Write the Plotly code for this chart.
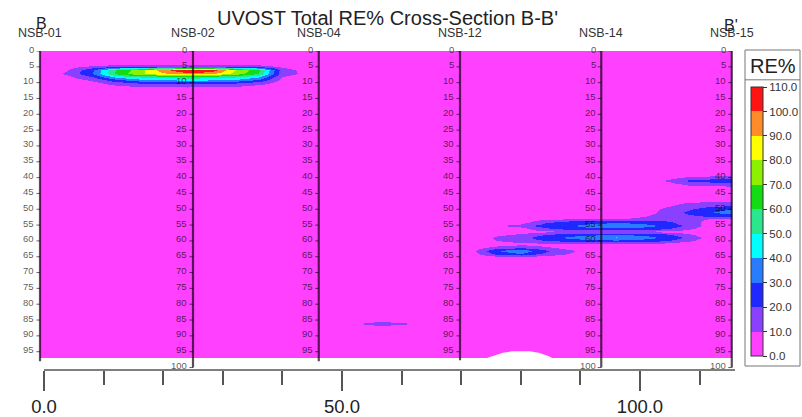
import plotly.graph_objects as go

# ------------------------------------------------------------------ data
boring_names = ["NSB-01", "NSB-02", "NSB-04", "NSB-12", "NSB-14", "NSB-15"]
boring_distance = [-0.67, 25.0, 46.1, 69.8, 93.5, 115.4]
boring_total_depth = [98.0, 100.0, 98.0, 97.7, 100.0, 100.0]

section_base_depth = 97.0

grid_distance = [0, 4, 8, 12, 16, 20, 24, 28, 32, 36, 40, 44, 48, 52, 56, 60,
                 64, 68, 72, 76, 80, 84, 88, 92, 96, 100, 104, 108, 112, 115]
grid_depth = list(range(0, 98))
background_re = 3.0

# shallow plume around NSB-02 (depth 4-12 ft)
shallow_cols = [0, 4, 8, 12, 16, 20, 24, 28, 32, 36, 40, 44]
shallow_depths = [4, 5, 6, 7, 8, 9, 10, 11, 12]
shallow_re = [
    [3, 3, 4, 5, 5, 5, 5, 5, 5, 5, 3, 3],
    [3, 6, 12, 17, 18, 18, 18, 18, 18, 16, 8, 4],
    [4, 10, 28, 60, 75, 95, 110, 106, 80, 62, 14, 7],
    [4, 12, 30, 62, 78, 88, 94, 92, 76, 60, 14, 8],
    [4, 8, 20, 44, 52, 56, 57, 56, 52, 42, 10, 5],
    [3, 5, 12, 28, 38, 42, 44, 43, 40, 30, 7, 4],
    [3, 4, 7, 16, 22, 24, 25, 24, 22, 16, 5, 3],
    [3, 3, 4, 9, 12, 13, 14, 13, 12, 8, 4, 3],
    [3, 3, 3, 5, 6, 6, 6, 6, 6, 4, 3, 3],
]

# intermediate lenses between NSB-12 and NSB-15 (depth 53-66 ft)
mid_cols = [72, 76, 80, 84, 88, 92, 96, 100, 104, 108, 112]
mid_depths = [53, 54, 55, 56, 57, 58, 59, 60, 61, 62, 63, 64, 65, 66]
mid_re = [
    [3, 3, 3, 6, 8, 9, 9, 12, 12, 8, 3],
    [3, 3, 6, 18, 24, 26, 28, 27, 23, 14, 3],
    [3, 9, 14, 26, 28, 36, 40, 36, 28, 18, 3],
    [3, 3, 6, 18, 24, 27, 28, 26, 22, 12, 3],
    [3, 3, 5, 8, 8, 8, 8, 8, 7, 5, 3],
    [3, 8, 12, 20, 26, 28, 30, 28, 24, 12, 3],
    [3, 12, 16, 26, 32, 38, 42, 36, 28, 18, 3],
    [3, 10, 14, 20, 24, 26, 28, 26, 22, 12, 3],
    [3, 6, 8, 7, 8, 8, 8, 8, 6, 4, 3],
    [5, 14, 18, 12, 6, 3, 3, 3, 3, 3, 3],
    [8, 30, 38, 22, 12, 6, 3, 3, 3, 3, 3],
    [6, 24, 30, 18, 10, 4, 3, 3, 3, 3, 3],
    [3, 8, 10, 6, 4, 3, 3, 3, 3, 3, 3],
    [3, 3, 3, 3, 3, 3, 3, 3, 3, 3, 3],
]

# lenses near NSB-15 (depth 39-54 ft)
right_cols = [100, 104, 108, 112, 115]
right_depths = [39, 40, 41, 42, 43, 44, 45, 46, 47, 48, 49, 50, 51, 52, 53, 54]
right_re = [
    [3, 3, 5, 6, 6],
    [3, 5, 12, 14, 15],
    [3, 10, 22, 26, 28],
    [3, 5, 12, 14, 15],
    [3, 3, 4, 5, 5],
    [3, 3, 3, 3, 3],
    [3, 3, 3, 3, 3],
    [3, 3, 3, 3, 3],
    [3, 3, 5, 6, 6],
    [3, 6, 11, 12, 12],
    [3, 9, 15, 20, 22],
    [3, 12, 19, 28, 30],
    [4, 13, 22, 30, 32],
    [8, 14, 18, 24, 26],
    [12, 14, 14, 10, 10],
    [12, 12, 12, 6, 6],
]

# thin deep streak east of NSB-04 (depth ~86 ft)
deep_cols = [48, 52, 56, 60, 64]
deep_depths = [85, 86, 87]
deep_re = [
    [3, 4, 6, 5, 3],
    [3, 8, 16, 13, 3],
    [3, 4, 6, 5, 3],
]

# base of section (white hump between NSB-12 and NSB-14)
hump_distance = [73.8, 75.5, 77.0, 78.5, 81.5, 83.0, 84.5, 85.6]
hump_depth = [97.3, 96.3, 95.3, 94.9, 94.9, 95.3, 96.3, 97.3]

re_levels = [0, 10, 20, 30, 40, 50, 60, 70, 80, 90, 100, 110]
re_colors = ["#ff40ff", "#8a40ff", "#1e28ff", "#2a7cff", "#00ffff", "#2ae68c",
             "#14dc14", "#8cf000", "#ffff00", "#ff8c28", "#ff1414"]

x_ticks_major = 50
x_ticks_minor = 10

# ------------------------------------------------------------------ grid
z = [[background_re for _ in grid_distance] for _ in grid_depth]


def stamp(cols, depths, vals):
    for i, d in enumerate(depths):
        r = grid_depth.index(d)
        for j, c in enumerate(cols):
            k = grid_distance.index(c)
            z[r][k] = max(z[r][k], vals[i][j])


stamp(shallow_cols, shallow_depths, shallow_re)
stamp(mid_cols, mid_depths, mid_re)
stamp(right_cols, right_depths, right_re)
stamp(deep_cols, deep_depths, deep_re)

x_edges = ([boring_distance[0]]
           + [(a + b) / 2 for a, b in zip(grid_distance[:-1], grid_distance[1:])]
           + [boring_distance[-1]])
y_edges = ([0.0]
           + [(a + b) / 2 for a, b in zip(grid_depth[:-1], grid_depth[1:])]
           + [section_base_depth])

zmin, zmax = re_levels[0], re_levels[-1]
nb = len(re_colors)
colorscale = []
for i, c in enumerate(re_colors):
    colorscale.append([i / nb, c])
    colorscale.append([(i + 1) / nb, c])

# ------------------------------------------------------------------ layout geometry
W, H = 802, 417
ML, MR, MT, MB = 0, 67, 51, 45
PW, PH = W - ML - MR, H - MT - MB
px_per_unit = 5.96
x_lo = -44 / px_per_unit
x_hi = x_lo + PW / px_per_unit
y_hi = PH / 3.185


def px_x(px):
    return (px - ML) / PW


def px_y(py):
    return (H - MB - py) / PH


FONT = "Liberation Sans, Arial, sans-serif"
label_color = "rgba(0,0,0,0.68)"

fig = go.Figure()

fig.add_trace(go.Heatmap(
    x=x_edges, y=y_edges, z=z, zsmooth="best",
    colorscale=colorscale, zmin=zmin, zmax=zmax, hoverinfo="skip",
    colorbar=dict(
        x=px_x(751), xanchor="left", xpad=0,
        y=px_y(358), yanchor="bottom", ypad=0,
        len=269, lenmode="pixels", thickness=12, thicknessmode="pixels",
        outlinewidth=1, outlinecolor="#333",
        tickvals=re_levels, ticktext=["%.1f" % v for v in re_levels],
        ticks="outside", ticklen=4, tickwidth=1, tickcolor="#333",
        tickfont=dict(family=FONT, size=11.5, color="#333"),
    ),
))

# white base hump
fig.add_trace(go.Scatter(
    x=hump_distance + [hump_distance[0]], y=hump_depth + [hump_depth[0]],
    mode="lines", fill="toself", fillcolor="white",
    line=dict(width=0, color="white"),
    hoverinfo="skip", showlegend=False,
))

# borehole lines
bx, by = [], []
tx, ty = [], []
for pos, td in zip(boring_distance, boring_total_depth):
    bx += [pos, pos, None]
    by += [0, td, None]
    d = 0
    while d <= td + 1e-6:
        tx += [pos - 0.6, pos, None]
        ty += [d, d, None]
        d += 5
fig.add_trace(go.Scatter(x=bx, y=by, mode="lines",
                         line=dict(color="rgba(20,0,20,0.7)", width=2.2),
                         hoverinfo="skip", showlegend=False, cliponaxis=False))
fig.add_trace(go.Scatter(x=tx, y=ty, mode="lines",
                         line=dict(color="rgba(0,0,0,0.6)", width=1),
                         hoverinfo="skip", showlegend=False, cliponaxis=False))

annotations = []
for name, pos, td in zip(boring_names, boring_distance, boring_total_depth):
    annotations.append(dict(
        x=pos, xref="x", y=px_y(33), yref="paper", text=name, showarrow=False,
        xanchor="center", yanchor="middle",
        font=dict(family=FONT, size=12.5, color="#333")))
    d = 0
    while d <= td + 1e-6:
        annotations.append(dict(
            x=pos - 0.6, xref="x", y=d, yref="y", text=str(d), showarrow=False,
            xanchor="right", yanchor="middle", xshift=0, yshift=2,
            font=dict(family=FONT, size=9.5, color=label_color)))
        d += 5

annotations += [
    dict(x=px_x(387), xref="paper", y=px_y(18), yref="paper",
         text="UVOST Total RE% Cross-Section B-B'", showarrow=False,
         xanchor="center", yanchor="middle",
         font=dict(family=FONT, size=20, color="#222")),
    dict(x=boring_distance[0] + 0.3, xref="x", y=px_y(23), yref="paper", text="B",
         showarrow=False, xanchor="center", yanchor="middle",
         font=dict(family=FONT, size=16, color="#222")),
    dict(x=boring_distance[-1] - 0.1, xref="x", y=px_y(25), yref="paper", text="B'",
         showarrow=False, xanchor="center", yanchor="middle",
         font=dict(family=FONT, size=16, color="#222")),
    dict(x=px_x(772.5), xref="paper", y=px_y(66), yref="paper", text="RE%",
         showarrow=False, xanchor="center", yanchor="middle",
         font=dict(family=FONT, size=20, color="#222")),
]

shapes = [
    dict(type="rect", xref="paper", yref="paper",
         x0=px_x(745), x1=px_x(800), y0=px_y(368), y1=px_y(50),
         line=dict(color="#777", width=1), fillcolor="rgba(0,0,0,0)"),
    dict(type="line", xref="paper", yref="paper",
         x0=px_x(745), x1=px_x(800), y0=px_y(80), y1=px_y(80),
         line=dict(color="#777", width=1)),
    dict(type="line", xref="paper", yref="paper",
         x0=px_x(44), x1=1.0, y0=0, y1=0,
         line=dict(color="#555", width=1.5)),
]

fig.update_layout(
    width=W, height=H,
    margin=dict(l=ML, r=MR, t=MT, b=MB, pad=0),
    paper_bgcolor="white", plot_bgcolor="white",
    showlegend=False,
    annotations=annotations, shapes=shapes,
    xaxis=dict(range=[x_lo, x_hi], showgrid=False, zeroline=False, showline=False,
               tickmode="linear", tick0=0, dtick=x_ticks_major, tickformat=".1f",
               ticks="outside", ticklen=20, tickwidth=1.5, tickcolor="#555",
               tickfont=dict(family=FONT, size=18.5, color="#222"),
               minor=dict(ticks="outside", ticklen=14, tickwidth=1.5, tickcolor="#555",
                          tick0=0, dtick=x_ticks_minor, showgrid=False),
               fixedrange=True),
    yaxis=dict(range=[y_hi, 0], visible=False, showgrid=False, zeroline=False,
               fixedrange=True),
)

fig.write_html("out.html")
